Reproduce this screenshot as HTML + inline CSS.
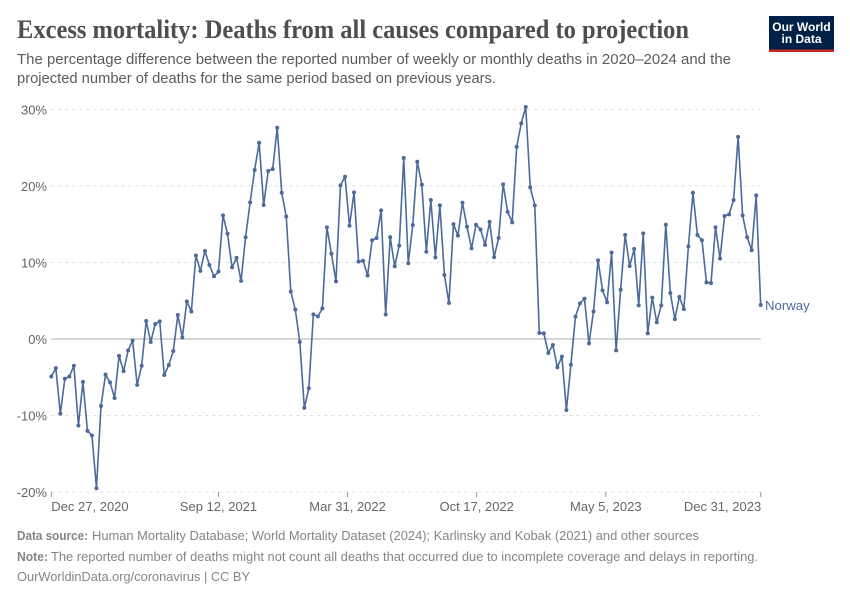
<!DOCTYPE html>
<html lang="en">
<head>
<meta charset="utf-8">
<title>Excess mortality: Deaths from all causes compared to projection</title>
<style>
html,body{margin:0;padding:0;background:#fff;width:850px;height:600px;overflow:hidden}
svg{display:block}
text{font-family:"Liberation Sans",sans-serif}
.title{font-family:"Liberation Serif",serif;font-weight:700;font-size:26px;fill:#4e4e4e}
.sub{font-size:14.5px;fill:#5b5b5b}
.tick{font-size:13px;fill:#666}
.foot{font-size:13px;fill:#858585}
.footb{font-size:13px;fill:#858585;font-weight:700}
</style>
</head>
<body>
<svg id="chart" xmlns="http://www.w3.org/2000/svg" width="850" height="600" viewBox="0 0 850 600">
<rect width="850" height="600" fill="#fff"/>
<text class="title" x="17" y="38" textLength="672" lengthAdjust="spacingAndGlyphs">Excess mortality: Deaths from all causes compared to projection</text>
<text class="sub" x="17" y="64" textLength="714" lengthAdjust="spacingAndGlyphs">The percentage difference between the reported number of weekly or monthly deaths in 2020–2024 and the</text>
<text class="sub" x="17" y="83" textLength="479" lengthAdjust="spacingAndGlyphs">projected number of deaths for the same period based on previous years.</text>
<g>
<rect x="769" y="16" width="65" height="36" fill="#002147"/>
<rect x="769" y="49.5" width="65" height="2.5" fill="#ce261e"/>
<text x="801.5" y="31" text-anchor="middle" font-size="12" font-weight="700" fill="#fff">Our World</text>
<text x="801.5" y="43" text-anchor="middle" font-size="12" font-weight="700" fill="#fff">in Data</text>
</g>
<g id="grid"></g>
<g id="xaxis"></g>
<g id="yaxis"></g>
<g id="series"></g>
<g>
<text class="footb" x="17" y="540" textLength="71" lengthAdjust="spacingAndGlyphs">Data source:</text>
<text class="foot" x="92" y="540" textLength="607" lengthAdjust="spacingAndGlyphs">Human Mortality Database; World Mortality Dataset (2024); Karlinsky and Kobak (2021) and other sources</text>
<text class="footb" x="17" y="561" textLength="31" lengthAdjust="spacingAndGlyphs">Note:</text>
<text class="foot" x="51" y="561" textLength="707" lengthAdjust="spacingAndGlyphs">The reported number of deaths might not count all deaths that occurred due to incomplete coverage and delays in reporting.</text>
<text class="foot" x="17" y="581" textLength="233" lengthAdjust="spacingAndGlyphs">OurWorldinData.org/coronavirus | CC BY</text>
</g>
</svg>
<script>
const seriesName = 'Norway';
const startDate = '2020-12-27';
const endDate = '2023-12-31';
const weeksBetweenPoints = 1;
const norwayValues = [
-4.9,-3.8,-9.75,-5.2,-4.9,-3.5,-11.3,-5.6,-12.0,-12.6,
-19.5,-8.75,-4.66,-5.66,-7.7,-2.2,-4.2,-1.5,-0.2,-6.0,
-3.5,2.35,-0.4,1.96,2.3,-4.7,-3.4,-1.57,3.13,0.2,
4.9,3.6,10.9,8.9,11.5,9.66,8.2,8.8,16.15,13.76,
9.36,10.6,7.6,13.3,17.85,22.07,25.64,17.5,21.94,22.2,
27.6,19.1,16.0,6.2,3.83,-0.4,-9.0,-6.44,3.22,2.96,
4.0,14.58,11.14,7.53,20.07,21.2,14.8,19.15,10.1,10.23,
8.3,12.9,13.2,16.8,3.2,13.3,9.5,12.2,23.64,9.9,
14.9,23.16,20.16,11.4,18.15,10.67,17.46,8.36,4.7,15.0,
13.5,17.8,14.67,11.84,14.93,14.3,12.3,15.3,10.7,13.2,
20.2,16.6,15.24,25.1,28.17,30.3,19.8,17.46,0.78,0.74,
-1.83,-0.78,-3.7,-2.3,-9.27,-3.35,2.92,4.66,5.27,-0.57,
3.6,10.27,6.36,4.8,11.3,-1.48,6.44,13.58,9.53,11.75,
4.4,13.8,0.74,5.4,2.18,4.4,14.93,6.0,2.6,5.5,
3.9,12.1,19.1,13.58,12.9,7.4,7.3,14.58,10.5,16.06,
16.28,18.15,26.4,16.15,13.3,11.6,18.76,4.44
];
const yTickValues = [-20,-10,0,10,20,30];
const yTickLabels = ['-20%','-10%','0%','10%','20%','30%'];
const xTickDates = ['2020-12-27','2021-09-12','2022-03-31','2022-10-17','2023-05-05','2023-12-31'];
const xTickLabels = ['Dec 27, 2020','Sep 12, 2021','Mar 31, 2022','Oct 17, 2022','May 5, 2023','Dec 31, 2023'];

const NS = 'http://www.w3.org/2000/svg';
const plotLeft = 51.3, plotRight = 760.7, zeroY = 339, pxPerPct = 7.655;
const DAY = 86400000;
const t0 = Date.parse(startDate), t1 = Date.parse(endDate);
function xDate(d){ return plotLeft + (Date.parse(d) - t0) / (t1 - t0) * (plotRight - plotLeft); }
function xIndex(i){ return plotLeft + (i * weeksBetweenPoints * 7 * DAY) / (t1 - t0) * (plotRight - plotLeft); }
function y(v){ return zeroY - v * pxPerPct; }
function make(tag, attrs, parent){
  const el = document.createElementNS(NS, tag);
  for (const k in attrs) el.setAttribute(k, attrs[k]);
  parent.appendChild(el);
  return el;
}
const gridG = document.getElementById('grid');
const xG = document.getElementById('xaxis');
const yG = document.getElementById('yaxis');
const sG = document.getElementById('series');

yTickValues.forEach(function(v, i){
  const line = make('line', {x1: plotLeft, x2: plotRight, y1: y(v), y2: y(v), stroke: v === 0 ? '#bdbdbd' : '#dddddd', 'stroke-width': v === 0 ? 1.2 : 1, 'stroke-dasharray': v === 0 ? 'none' : '3,4'}, gridG);
  
  
  const label = make('text', {x: 47, y: y(v) + 5, 'text-anchor': 'end', class: 'tick'}, yG);
  
  
  label.textContent = yTickLabels[i];
});

xTickDates.forEach(function(d, i){
  const px = xDate(d);
  const tick = make('line', {x1: px, x2: px, y1: y(-20), y2: y(-20) + 5, stroke: '#999', 'stroke-width': 1}, xG);
  
  
  const anchor = i === 0 ? 'start' : (i === xTickDates.length - 1 ? 'end' : 'middle');
  const label = make('text', {x: i === xTickDates.length - 1 ? px + 0.5 : px, y: 511, 'text-anchor': anchor, class: 'tick'}, xG);
  
  
  label.textContent = xTickLabels[i];
});

const pts = norwayValues.map(function(v, i){ return xIndex(i).toFixed(2) + ',' + y(v).toFixed(2); }).join(' ');
const path = make('polyline', {points: pts, fill: 'none', stroke: '#4c6a9c', 'stroke-width': 1.6, 'stroke-linejoin': 'round'}, sG);


norwayValues.forEach(function(v, i){
  const dot = make('circle', {cx: xIndex(i), cy: y(v), r: 2, fill: '#4c6a9c'}, sG);
  
  
});
const lastV = norwayValues[norwayValues.length - 1];
const seriesLabel = make('text', {x: 765, y: y(lastV) + 5, 'font-size': 13.2, fill: '#4c6a9c'}, sG);


seriesLabel.textContent = seriesName;
</script>
</body>
</html>
